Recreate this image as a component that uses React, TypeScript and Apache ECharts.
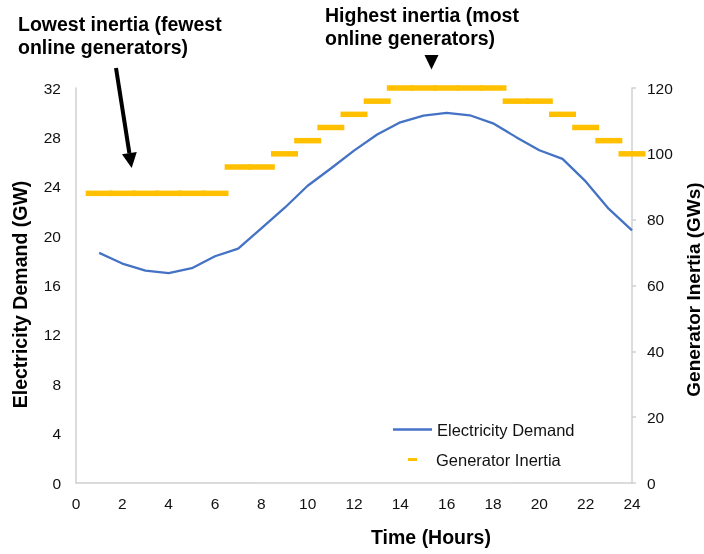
import React, { useEffect, useRef } from "react";
import * as echarts from "echarts";

const hours = [1, 2, 3, 4, 5, 6, 7, 8, 9, 10, 11, 12, 13, 14, 15, 16, 17, 18, 19, 20, 21, 22, 23, 24];
const demandGW = [18.64, 17.78, 17.21, 17.0, 17.4, 18.37, 18.99, 20.63, 22.28, 24.08, 25.48, 26.93, 28.23, 29.22, 29.76, 29.98, 29.79, 29.14, 28.02, 26.96, 26.26, 24.43, 22.2, 20.47];
const inertiaGWs = [88, 88, 88, 88, 88, 88, 96, 96, 100, 104, 108, 112, 116, 120, 120, 120, 120, 120, 116, 116, 112, 108, 104, 100];
const lowAnnotation = "Lowest inertia (fewest\nonline generators)";
const highAnnotation = "Highest inertia (most\nonline generators)";

const FONT = "'Liberation Sans', Arial, sans-serif";
const AXIS_GRAY = "#d0d0d0";

export default function App() {
  const ref = useRef<HTMLDivElement>(null);

  useEffect(() => {
    if (!ref.current) return;
    const chart = echarts.init(ref.current, undefined, { renderer: "svg" });

    // arrow geometry (decoration)
    const tail = [116, 68];
    const tip = [131.7, 168];
    const dx = tip[0] - tail[0];
    const dy = tip[1] - tail[1];
    const len = Math.sqrt(dx * dx + dy * dy);
    const ux = dx / len;
    const uy = dy / len;
    const headLen = 15;
    const headHalf = 7.5;
    const bx = tip[0] - ux * headLen;
    const by = tip[1] - uy * headLen;
    const px = uy;
    const py = -ux;

    chart.setOption({
      animation: false,
      textStyle: { fontFamily: FONT },
      grid: { left: 76, right: 72, top: 88, bottom: 71, containLabel: false, outerBoundsMode: "none" },
      legend: [
        {
          data: [{ name: "Electricity Demand", icon: "path://M0,0L39,0L39,2.4L0,2.4Z" }],
          left: 393,
          top: 421,
          padding: 0,
          itemWidth: 39,
          itemHeight: 2.4,
          textStyle: { fontFamily: FONT, fontSize: 16.5, color: "#111" },
        },
        {
          data: [{ name: "Generator Inertia", icon: "rect" }],
          left: 408,
          top: 451,
          padding: 0,
          itemWidth: 9,
          itemHeight: 3,
          textStyle: { fontFamily: FONT, fontSize: 16.5, color: "#111", padding: [0, 0, 0, 14] },
        },
      ],
      xAxis: {
        type: "value",
        min: 0,
        max: 24,
        interval: 2,
        axisLine: { show: true, lineStyle: { color: AXIS_GRAY, width: 1.5 } },
        axisTick: { show: false },
        splitLine: { show: false },
        axisLabel: { fontFamily: FONT, fontSize: 15.5, color: "#111", margin: 12 },
      },
      yAxis: [
        {
          type: "value",
          min: 0,
          max: 32,
          interval: 4,
          name: "Electricity Demand (GW)",
          nameLocation: "middle",
          nameGap: 46,
          nameRotate: 90,
          nameTextStyle: { fontFamily: FONT, fontSize: 19.5, fontWeight: "bold", color: "#000", padding: [0, 18, 0, 0] },
          axisLine: { show: true, lineStyle: { color: AXIS_GRAY, width: 1.5 } },
          axisTick: { show: false },
          splitLine: { show: false },
          axisLabel: { fontFamily: FONT, fontSize: 15.5, color: "#111", margin: 15 },
        },
        {
          type: "value",
          position: "right",
          min: 0,
          max: 120,
          interval: 20,
          name: "Generator Inertia (GWs)",
          nameLocation: "middle",
          nameGap: 47,
          nameRotate: 90,
          nameTextStyle: { fontFamily: FONT, fontSize: 19, fontWeight: "bold", color: "#000", padding: [0, 8, 0, 0] },
          axisLine: { show: true, lineStyle: { color: AXIS_GRAY, width: 1.5 } },
          axisTick: { show: true, length: 4, lineStyle: { color: AXIS_GRAY, width: 1.5 } },
          splitLine: { show: false },
          axisLabel: { fontFamily: FONT, fontSize: 15.5, color: "#111", margin: 15 },
        },
      ],
      series: [
        {
          name: "Electricity Demand",
          type: "line",
          yAxisIndex: 0,
          symbol: "none",
          data: hours.map((h, i) => [h, demandGW[i]]),
          lineStyle: { color: "#4472C4", width: 2.3 },
          itemStyle: { color: "#4472C4" },
          z: 2,
        },
        {
          name: "Generator Inertia",
          type: "scatter",
          yAxisIndex: 1,
          symbol: "rect",
          symbolSize: [27, 5.5],
          data: hours.map((h, i) => [h, inertiaGWs[i]]),
          itemStyle: { color: "#FFC000", opacity: 1 },
          z: 3,
        },
      ],
      graphic: [
        {
          type: "text",
          left: 18,
          top: 12,
          style: {
            text: lowAnnotation,
            fontFamily: FONT,
            fontSize: 19.5,
            fontWeight: "bold",
            lineHeight: 23,
            fill: "#000",
          },
        },
        {
          type: "text",
          left: 325,
          top: 3,
          style: {
            text: highAnnotation,
            fontFamily: FONT,
            fontSize: 19.5,
            fontWeight: "bold",
            lineHeight: 23,
            fill: "#000",
          },
        },
        {
          type: "line",
          shape: { x1: tail[0], y1: tail[1], x2: bx, y2: by },
          style: { stroke: "#000", lineWidth: 4 },
        },
        {
          type: "polygon",
          shape: {
            points: [
              [tip[0], tip[1]],
              [bx + px * headHalf, by + py * headHalf],
              [bx - px * headHalf, by - py * headHalf],
            ],
          },
          style: { fill: "#000" },
        },
        {
          type: "polygon",
          shape: { points: [[424.5, 55], [438.5, 55], [431.5, 69.5]] },
          style: { fill: "#000" },
        },
        {
          type: "text",
          x: 431,
          y: 537,
          style: {
            text: "Time (Hours)",
            fontFamily: FONT,
            fontSize: 19.5,
            fontWeight: "bold",
            fill: "#000",
            textAlign: "center",
            textVerticalAlign: "middle",
          },
        },
      ],
    });

    return () => chart.dispose();
  }, []);

  return <div ref={ref} style={{ position: "fixed", left: 0, top: 0, width: 704, height: 554 }} />;
}
